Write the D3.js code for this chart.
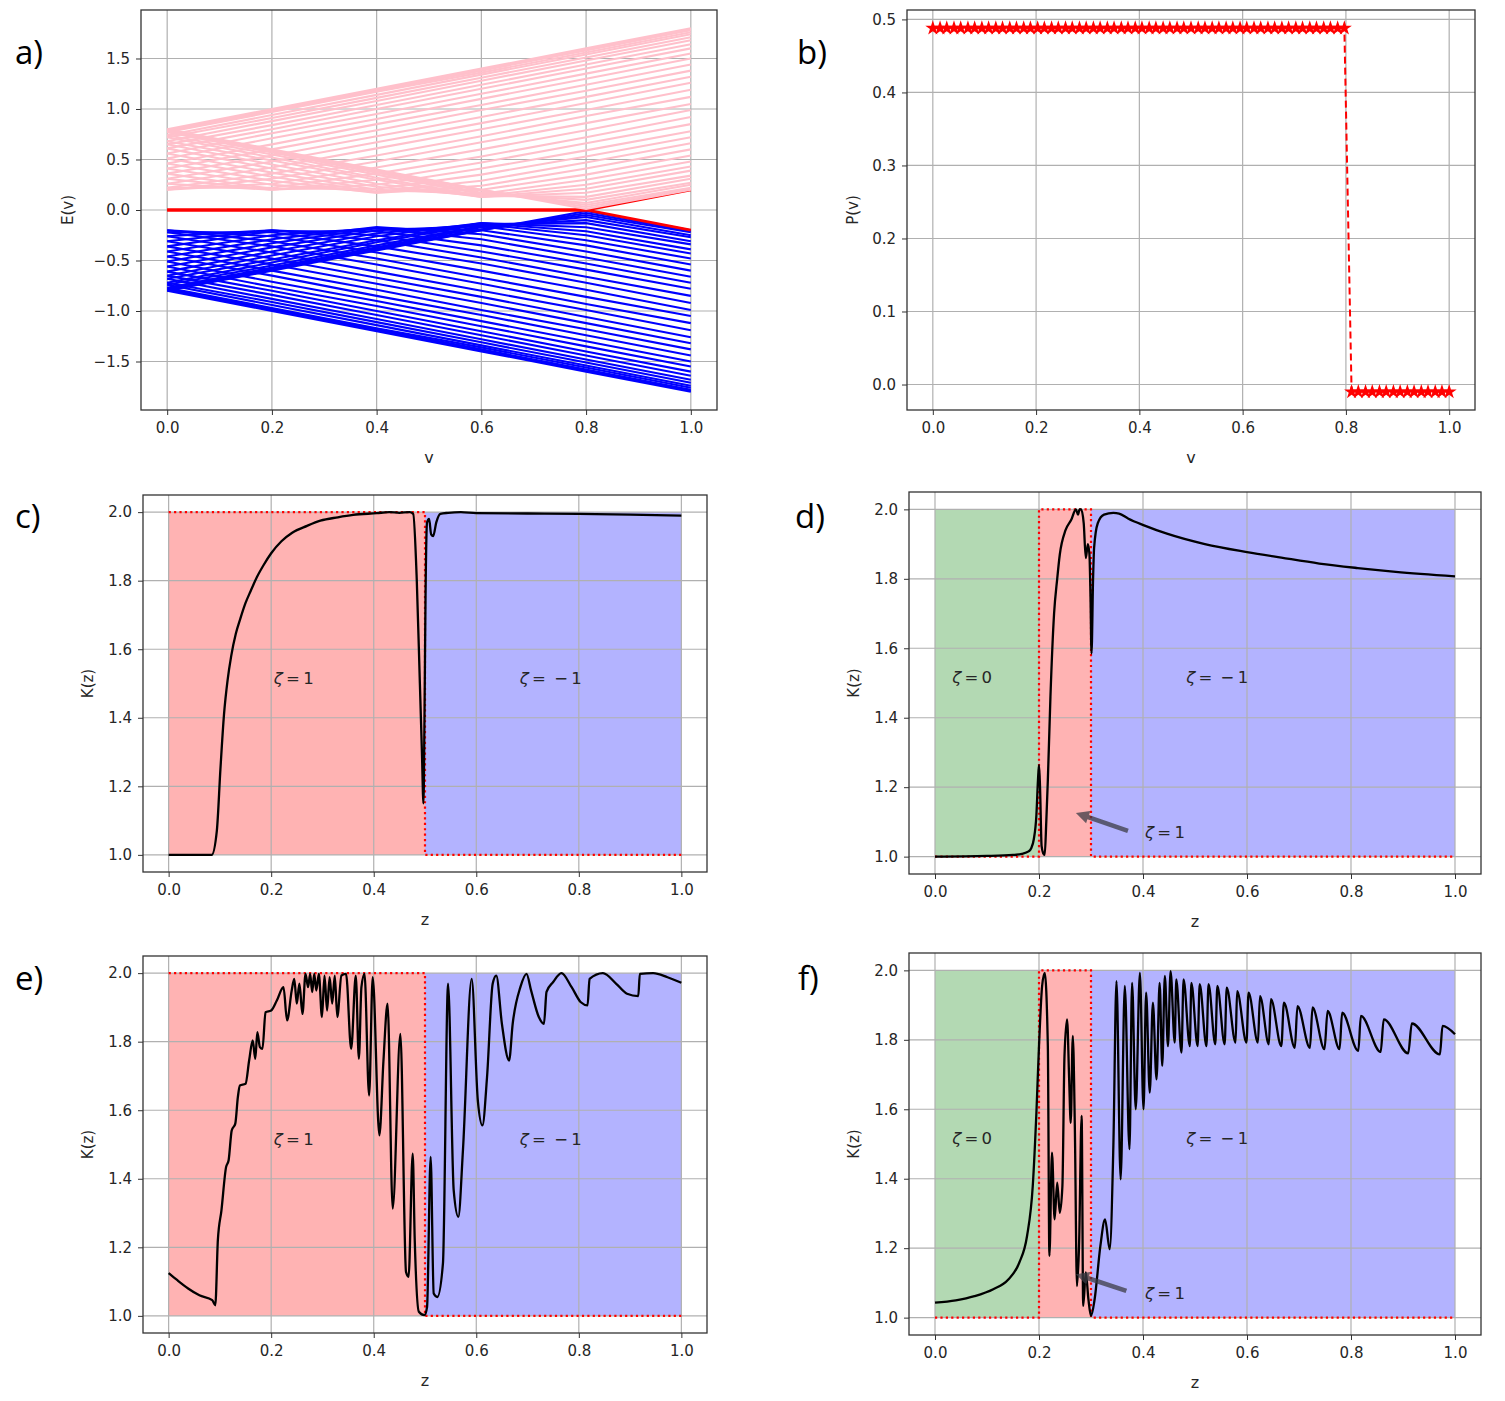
<!DOCTYPE html>
<html>
<head>
<meta charset="utf-8">
<script src="https://cdn.jsdelivr.net/npm/d3@7"></script>
<style>
	body { margin: 0; background: #fff; }
	svg text { font-family: "DejaVu Sans", sans-serif; }
</style>
</head>
<body>
<svg id="fig" width="1505" height="1401"></svg>
<script>
/* ===== DATA ===== */

/* a) spectrum: each band read at these v values */
var vGrid = [0, 0.2, 0.4, 0.6, 0.8, 1.0];
var upperBands = [
	[0.80,0.60,0.40,0.20,0.01,0.20],[0.79,0.59,0.39,0.20,0.03,0.21],[0.78,0.58,0.38,0.19,0.05,0.22],
	[0.77,0.57,0.37,0.17,0.07,0.25],[0.74,0.55,0.35,0.16,0.10,0.27],[0.72,0.52,0.32,0.14,0.13,0.31],
	[0.68,0.49,0.30,0.13,0.17,0.34],[0.65,0.45,0.26,0.13,0.21,0.39],[0.61,0.41,0.23,0.14,0.25,0.43],
	[0.56,0.37,0.20,0.16,0.30,0.48],[0.51,0.33,0.18,0.20,0.35,0.54],[0.46,0.29,0.17,0.24,0.41,0.60],
	[0.41,0.25,0.18,0.29,0.47,0.66],[0.36,0.21,0.21,0.35,0.53,0.72],[0.31,0.20,0.25,0.41,0.59,0.78],
	[0.26,0.20,0.30,0.47,0.66,0.85],[0.22,0.22,0.36,0.53,0.72,0.92],[0.20,0.26,0.42,0.60,0.79,0.99],
	[0.20,0.31,0.48,0.67,0.86,1.05],[0.22,0.36,0.54,0.73,0.93,1.12],[0.26,0.42,0.61,0.80,0.99,1.19],
	[0.31,0.48,0.67,0.86,1.06,1.26],[0.36,0.54,0.73,0.92,1.12,1.32],[0.41,0.60,0.79,0.99,1.18,1.38],
	[0.46,0.65,0.85,1.04,1.24,1.44],[0.51,0.71,0.90,1.10,1.30,1.50],[0.56,0.76,0.95,1.15,1.35,1.55],
	[0.61,0.80,1.00,1.20,1.40,1.60],[0.65,0.84,1.04,1.24,1.44,1.64],[0.68,0.88,1.08,1.28,1.48,1.68],
	[0.72,0.91,1.11,1.31,1.51,1.71],[0.74,0.94,1.14,1.34,1.54,1.74],[0.77,0.97,1.17,1.36,1.56,1.76],
	[0.78,0.98,1.18,1.38,1.58,1.78],[0.79,0.99,1.19,1.39,1.59,1.79],[0.80,1.00,1.20,1.40,1.60,1.80]
];
var lowerBands = [
	[-0.80,-0.60,-0.40,-0.20,-0.01,-0.20],[-0.79,-0.59,-0.39,-0.20,-0.03,-0.21],[-0.78,-0.58,-0.38,-0.19,-0.05,-0.22],
	[-0.77,-0.57,-0.37,-0.17,-0.07,-0.25],[-0.74,-0.55,-0.35,-0.16,-0.10,-0.27],[-0.72,-0.52,-0.32,-0.14,-0.13,-0.31],
	[-0.68,-0.49,-0.30,-0.13,-0.17,-0.34],[-0.65,-0.45,-0.26,-0.13,-0.21,-0.39],[-0.61,-0.41,-0.23,-0.14,-0.25,-0.43],
	[-0.56,-0.37,-0.20,-0.16,-0.30,-0.48],[-0.51,-0.33,-0.18,-0.20,-0.35,-0.54],[-0.46,-0.29,-0.17,-0.24,-0.41,-0.60],
	[-0.41,-0.25,-0.18,-0.29,-0.47,-0.66],[-0.36,-0.21,-0.21,-0.35,-0.53,-0.72],[-0.31,-0.20,-0.25,-0.41,-0.59,-0.78],
	[-0.26,-0.20,-0.30,-0.47,-0.66,-0.85],[-0.22,-0.22,-0.36,-0.53,-0.72,-0.92],[-0.20,-0.26,-0.42,-0.60,-0.79,-0.99],
	[-0.20,-0.31,-0.48,-0.67,-0.86,-1.05],[-0.22,-0.36,-0.54,-0.73,-0.93,-1.12],[-0.26,-0.42,-0.61,-0.80,-0.99,-1.19],
	[-0.31,-0.48,-0.67,-0.86,-1.06,-1.26],[-0.36,-0.54,-0.73,-0.92,-1.12,-1.32],[-0.41,-0.60,-0.79,-0.99,-1.18,-1.38],
	[-0.46,-0.65,-0.85,-1.04,-1.24,-1.44],[-0.51,-0.71,-0.90,-1.10,-1.30,-1.50],[-0.56,-0.76,-0.95,-1.15,-1.35,-1.55],
	[-0.61,-0.80,-1.00,-1.20,-1.40,-1.60],[-0.65,-0.84,-1.04,-1.24,-1.44,-1.64],[-0.68,-0.88,-1.08,-1.28,-1.48,-1.68],
	[-0.72,-0.91,-1.11,-1.31,-1.51,-1.71],[-0.74,-0.94,-1.14,-1.34,-1.54,-1.74],[-0.77,-0.97,-1.17,-1.36,-1.56,-1.76],
	[-0.78,-0.98,-1.18,-1.38,-1.58,-1.78],[-0.79,-0.99,-1.19,-1.39,-1.59,-1.79],[-0.80,-1.00,-1.20,-1.40,-1.60,-1.80]
];
var edgeUpper = [0, 0, 0, 0, 0, 0.2];
var edgeLower = [0, 0, 0, 0, 0, -0.2];

/* b) polarization */
var pV = [0,.014,.027,.041,.054,.068,.081,.095,.108,.122,.135,.149,.162,.176,.189,.203,.216,.230,.243,.257,
	.270,.284,.297,.311,.324,.338,.351,.365,.378,.392,.405,.419,.432,.446,.459,.473,.486,.500,.514,.527,
	.541,.554,.568,.581,.595,.608,.622,.635,.649,.662,.676,.689,.703,.716,.730,.743,.757,.770,.784,.797,
	.811,.824,.838,.851,.865,.878,.892,.905,.919,.932,.946,.959,.973,.986,1.0];
var pP = [.488,.488,.488,.488,.488,.488,.488,.488,.488,.488,.488,.488,.488,.488,.488,.488,.488,.488,.488,.488,
	.488,.488,.488,.488,.488,.488,.488,.488,.488,.488,.488,.488,.488,.488,.488,.488,.488,.488,.488,.488,
	.488,.488,.488,.488,.488,.488,.488,.488,.488,.488,.488,.488,.488,.488,.488,.488,.488,.488,.488,.488,
	-.010,-.010,-.010,-.010,-.010,-.010,-.010,-.010,-.010,-.010,-.010,-.010,-.010,-.010,-.010];

/* c) */
var cZ = [0,0.04,0.084,0.094,0.101,0.108,0.115,0.122,0.131,0.14,0.15,0.16,0.172,0.185,0.2,0.22,0.241,0.27,0.296,0.33,
	0.36,0.406,0.43,0.45,0.47,0.477,0.484,0.49,0.494,0.497,0.499,0.501,0.504,0.508,0.512,0.516,0.522,0.53,0.545,0.57,
	0.6,0.7,0.8,0.9,1.0];
var cK = [1.0,1.0,1.0,1.07,1.25,1.41,1.51,1.58,1.645,1.69,1.735,1.77,1.81,1.845,1.88,1.915,1.94,1.96,1.975,1.985,
	1.992,1.997,2.0,1.998,2.0,1.995,1.80,1.50,1.30,1.15,1.40,1.75,1.97,1.98,1.935,1.93,1.97,1.995,1.998,2.0,
	1.997,1.996,1.995,1.993,1.99];
var cBounds = [0, 0.5, 1.0], cZeta = [1, -1], cStep = [2, 1];

/* d) */
var dZ = [0,0.1,0.15,0.167,0.18,0.185,0.19,0.195,0.198,0.2,0.202,0.205,0.208,0.211,0.214,0.217,0.222,0.229,0.235,0.24,
	0.251,0.262,0.271,0.275,0.278,0.281,0.286,0.29,0.294,0.297,0.299,0.301,0.304,0.306,0.313,0.325,0.343,0.354,0.372,0.402,
	0.446,0.519,0.6,0.666,0.739,0.813,0.886,1.0];
var dK = [1.0,1.002,1.005,1.008,1.015,1.024,1.05,1.12,1.22,1.264,1.20,1.03,1.01,1.005,1.10,1.22,1.46,1.70,1.80,1.87,
	1.94,1.97,2.0,1.985,2.0,2.0,1.96,1.86,1.90,1.87,1.75,1.585,1.80,1.89,1.96,1.985,1.99,1.988,1.973,1.954,
	1.93,1.90,1.877,1.861,1.844,1.831,1.82,1.807];
var dBounds = [0, 0.2, 0.3, 1.0], dZeta = [0, 1, -1], dStep = [1, 2, 1];

/* e) */
var eZ = [0,0.017,0.038,0.06,0.085,0.091,0.096,0.103,0.112,0.117,0.123,0.13,0.135,0.139,0.15,0.157,0.164,0.169,0.173,0.178,
	0.183,0.189,0.2,0.211,0.224,0.231,0.24,0.245,0.25,0.255,0.261,0.267,0.272,0.276,0.28,0.284,0.288,0.293,0.299,0.304,
	0.309,0.314,0.319,0.324,0.329,0.337,0.346,0.356,0.365,0.371,0.376,0.382,0.391,0.398,0.411,0.419,0.427,0.437,0.452,0.463,
	0.468,0.476,0.48,0.488,0.499,0.504,0.511,0.517,0.524,0.535,0.545,0.556,0.565,0.574,0.591,0.603,0.612,0.621,0.632,0.639,
	0.65,0.664,0.671,0.686,0.698,0.707,0.722,0.732,0.737,0.75,0.766,0.786,0.804,0.817,0.821,0.847,0.873,0.894,0.916,0.919,
	0.945,0.973,1.0];
var eK = [1.125,1.104,1.080,1.060,1.046,1.031,1.221,1.308,1.434,1.454,1.541,1.561,1.638,1.672,1.677,1.745,1.804,1.750,1.828,1.784,
	1.779,1.886,1.891,1.920,1.959,1.862,1.949,1.983,1.911,1.969,1.881,1.998,1.959,1.998,1.945,1.998,1.949,1.998,1.872,1.993,
	1.891,1.988,1.911,1.993,1.872,1.993,1.998,1.779,1.993,1.750,1.959,1.998,1.643,1.988,1.527,1.745,1.911,1.313,1.823,1.128,
	1.114,1.473,1.221,1.012,1.002,1.026,1.464,1.065,1.055,1.153,1.969,1.366,1.289,1.483,1.983,1.629,1.556,1.697,1.969,1.993,
	1.852,1.745,1.852,1.959,1.998,1.949,1.872,1.852,1.945,1.974,2.0,1.959,1.915,1.906,1.983,2.0,1.969,1.940,1.933,1.998,
	2.0,1.988,1.972];
var eBounds = [0, 0.5, 1.0], eZeta = [1, -1], eStep = [2, 1];

/* f) */
var fZ = [0,0.04,0.076,0.112,0.141,0.162,0.177,0.188,0.195,0.2,0.206,0.211,0.217,0.22,0.225,0.23,0.235,0.24,0.245,0.249,
	0.254,0.258,0.261,0.265,0.269,0.273,0.277,0.282,0.285,0.29,0.295,0.3,0.307,0.318,0.327,0.336,0.343,0.349,0.357,0.365,
	0.374,0.379,0.386,0.394,0.401,0.406,0.413,0.419,0.426,0.432,0.437,0.442,0.448,0.453,0.461,0.464,0.474,0.478,0.490,0.493,
	0.505,0.509,0.522,0.526,0.539,0.543,0.557,0.561,0.578,0.581,0.599,0.603,0.621,0.625,0.642,0.646,0.666,0.671,0.692,0.697,
	0.721,0.726,0.749,0.755,0.778,0.783,0.814,0.819,0.857,0.863,0.910,0.917,0.971,0.976,1.0];
var fK = [1.043,1.050,1.062,1.082,1.110,1.158,1.235,1.379,1.590,1.782,1.955,1.993,1.782,1.178,1.475,1.283,1.389,1.302,1.379,1.753,
	1.859,1.686,1.561,1.811,1.542,1.091,1.206,1.581,1.034,1.130,1.053,1.005,1.053,1.206,1.283,1.197,1.494,1.969,1.398,1.955,
	1.485,1.964,1.600,1.993,1.600,1.936,1.648,1.907,1.686,1.964,1.725,1.984,1.782,1.998,1.792,1.974,1.763,1.974,1.782,1.964,
	1.782,1.960,1.782,1.960,1.787,1.955,1.787,1.950,1.792,1.940,1.792,1.936,1.792,1.926,1.787,1.917,1.782,1.907,1.777,1.897,
	1.777,1.893,1.773,1.883,1.773,1.878,1.768,1.869,1.765,1.859,1.761,1.847,1.758,1.840,1.816];
var fBounds = [0, 0.2, 0.3, 1.0], fZeta = [0, 1, -1], fStep = [1, 2, 1];

/* ticks */
var unitTicks = [0, 0.2, 0.4, 0.6, 0.8, 1.0];
var eTicks = [-1.5, -1.0, -0.5, 0.0, 0.5, 1.0, 1.5];
var pTicks = [0.0, 0.1, 0.2, 0.3, 0.4, 0.5];
var kTicks = [1.0, 1.2, 1.4, 1.6, 1.8, 2.0];

/* ===== SETTINGS ===== */
var fig = d3.select("#fig");
var fmt = d3.format(".1f");
var zetaFill = {"1": "#ffb3b3", "-1": "#b3b3ff", "0": "#b3d9b3"};

function makePanel(box, xDom, yDom){
	var p = {box: box};
	p.x = d3.scaleLinear().domain(xDom).range([box.left, box.right]);
	p.y = d3.scaleLinear().domain(yDom).range([box.bottom, box.top]);
	p.g = fig.append("g");
	return p;
}

function addGrid(p, xt, yt){
	var g = p.g.append("g")
		.attr("stroke", "#b0b0b0")
		.attr("stroke-width", 1.2);
	g.selectAll(".gx").data(xt).enter().append("line")
		.attr("x1", function(d){ return p.x(d); }).attr("x2", function(d){ return p.x(d); })
		.attr("y1", p.box.top).attr("y2", p.box.bottom);
	g.selectAll(".gy").data(yt).enter().append("line")
		.attr("y1", function(d){ return p.y(d); }).attr("y2", function(d){ return p.y(d); })
		.attr("x1", p.box.left).attr("x2", p.box.right);
}

function addAxes(p, xt, yt, xLabel, yLabel, yLabelGap){
	var gx = p.g.append("g")
		.attr("transform", "translate(0," + p.box.bottom + ")")
		.call(d3.axisBottom(p.x).tickValues(xt).tickFormat(fmt).tickSize(5).tickPadding(7));
	var gy = p.g.append("g")
		.attr("transform", "translate(" + p.box.left + ",0)")
		.call(d3.axisLeft(p.y).tickValues(yt).tickFormat(fmt).tickSize(5).tickPadding(6));
	[gx, gy].forEach(function(a){
		a.select(".domain").remove();
		a.attr("font-size", 15).attr("font-family", "DejaVu Sans").style("color", "#333");
		a.selectAll("text").attr("fill", "#262626");
	});
	p.g.append("rect")	//spines
		.attr("x", p.box.left).attr("y", p.box.top)
		.attr("width", p.box.right - p.box.left).attr("height", p.box.bottom - p.box.top)
		.attr("fill", "none").attr("stroke", "#333").attr("stroke-width", 1.3);
	p.g.append("text")
		.attr("x", (p.box.left + p.box.right) / 2).attr("y", p.box.bottom + 47)
		.attr("text-anchor", "middle").attr("dominant-baseline", "central")
		.attr("font-size", 16).attr("fill", "#262626")
		.text(xLabel);
	p.g.append("text")
		.attr("transform", "translate(" + (p.box.left - yLabelGap) + "," + ((p.box.top + p.box.bottom) / 2) + ") rotate(-90)")
		.attr("text-anchor", "middle").attr("dominant-baseline", "central")
		.attr("font-size", 15).attr("fill", "#262626")
		.text(yLabel);
}

function panelLetter(txt, x, y){
	fig.append("text")
		.attr("x", x).attr("y", y)
		.style("font-family", "'Open Sans', 'Noto Sans', sans-serif")
		.attr("font-size", 33).attr("fill", "#000")
		.text(txt);
}

function zetaText(p, z, k, rest){
	var t = p.g.append("text")
		.attr("x", p.x(z)).attr("y", p.y(k))
		.attr("dominant-baseline", "central")
		.attr("font-size", 16.5).attr("fill", "#262626")
		.attr("xml:space", "preserve");
	t.append("tspan").attr("font-style", "italic").text("\u03b6");
	t.append("tspan").text(rest);
	return t;
}

function arrow(p, z0, k0, z1, k1){
	/* shaft from (z0,k0) to head at (z1,k1) */
	var x0 = p.x(z0), y0 = p.y(k0), x1 = p.x(z1), y1 = p.y(k1);
	var L = Math.hypot(x1 - x0, y1 - y0), ux = (x1 - x0) / L, uy = (y1 - y0) / L, nx = -uy, ny = ux;
	var w = 2.3, hw = 6.5, hl = 13;
	var bx = x1 - ux * hl, by = y1 - uy * hl;
	var pts = [[x0 + nx * w, y0 + ny * w], [bx + nx * w, by + ny * w], [bx + nx * hw, by + ny * hw], [x1, y1],
		[bx - nx * hw, by - ny * hw], [bx - nx * w, by - ny * w], [x0 - nx * w, y0 - ny * w]];
	p.g.append("path")
		.attr("d", "M" + pts.map(function(q){ return q[0].toFixed(1) + "," + q[1].toFixed(1); }).join("L") + "Z")
		.attr("fill", "#3c3c46").attr("fill-opacity", 0.75);
}

/* ===== a) ===== */
var pa = makePanel({left: 141, right: 717, top: 10, bottom: 410}, [-0.05, 1.05], [-1.98, 1.98]);
addGrid(pa, unitTicks, eTicks);
var bandLine = d3.line()
	.x(function(d, i){ return pa.x(vGrid[i]); })
	.y(function(d){ return pa.y(d); });
pa.g.append("g").selectAll("path").data(lowerBands).enter().append("path")
	.attr("d", bandLine).attr("fill", "none").attr("stroke", "blue").attr("stroke-width", 2.1);
pa.g.append("g").selectAll("path").data([edgeUpper, edgeLower]).enter().append("path")
	.attr("d", bandLine).attr("fill", "none").attr("stroke", "red").attr("stroke-width", 2.8);
pa.g.append("g").selectAll("path").data(upperBands).enter().append("path")
	.attr("d", bandLine).attr("fill", "none").attr("stroke", "pink").attr("stroke-width", 2.1);
addAxes(pa, unitTicks, eTicks, "v", "E(v)", 73);

/* ===== b) ===== */
var pb = makePanel({left: 907, right: 1475, top: 10, bottom: 410}, [-0.05, 1.05], [-0.0349, 0.5129]);
addGrid(pb, unitTicks, pTicks);
pb.g.append("path")
	.attr("d", d3.line().x(function(d, i){ return pb.x(pV[i]); }).y(function(d){ return pb.y(d); })(pP))
	.attr("fill", "none").attr("stroke", "red").attr("stroke-width", 2).attr("stroke-dasharray", "7,4");
pb.g.append("g").selectAll("path").data(pP).enter().append("path")
	.attr("transform", function(d, i){ return "translate(" + pb.x(pV[i]) + "," + pb.y(d) + ")"; })
	.attr("d", d3.symbol(d3.symbolStar, 70))
	.attr("fill", "red");
addAxes(pb, unitTicks, pTicks, "v", "P(v)", 54);

/* ===== c) - f) ===== */
function kPanel(box, zs, ks, bounds, zetas, steps){
	var p = makePanel(box, [-0.05, 1.05], [0.95, 2.05]);
	/* phase regions */
	p.g.append("g").selectAll("rect").data(zetas).enter().append("rect")
		.attr("x", function(d, i){ return p.x(bounds[i]); })
		.attr("width", function(d, i){ return p.x(bounds[i + 1]) - p.x(bounds[i]); })
		.attr("y", p.y(2)).attr("height", p.y(1) - p.y(2))
		.attr("fill", function(d){ return zetaFill[d]; });
	addGrid(p, unitTicks, kTicks);
	/* expected step */
	var stepPts = [];
	steps.forEach(function(s, i){ stepPts.push([bounds[i], s], [bounds[i + 1], s]); });
	p.g.append("path")
		.attr("d", d3.line().x(function(d){ return p.x(d[0]); }).y(function(d){ return p.y(d[1]); })(stepPts))
		.attr("fill", "none").attr("stroke", "red").attr("stroke-width", 2.2).attr("stroke-dasharray", "2.2,3.2");
	/* K(z) */
	p.g.append("path")
		.attr("d", d3.line().curve(d3.curveMonotoneX)
			.x(function(d, i){ return p.x(zs[i]); }).y(function(d){ return p.y(d); })(ks))
		.attr("fill", "none").attr("stroke", "#000").attr("stroke-width", 2.3).attr("stroke-linejoin", "round");
	addAxes(p, unitTicks, kTicks, "z", "K(z)", 55);
	return p;
}

var pc = kPanel({left: 143, right: 707, top: 495, bottom: 872}, cZ, cK, cBounds, cZeta, cStep);
zetaText(pc, 0.205, 1.516, "\u2009=\u20091");
zetaText(pc, 0.685, 1.516, "\u2009=\u2002\u2212\u20091");

var pd = kPanel({left: 909, right: 1481, top: 492, bottom: 874}, dZ, dK, dBounds, dZeta, dStep);
zetaText(pd, 0.033, 1.516, "\u2009=\u20090");
zetaText(pd, 0.483, 1.516, "\u2009=\u2002\u2212\u20091");
arrow(pd, 0.371, 1.074, 0.271, 1.126);
zetaText(pd, 0.404, 1.071, "\u2009=\u20091");

var pe = kPanel({left: 143, right: 707, top: 956, bottom: 1333}, eZ, eK, eBounds, eZeta, eStep);
zetaText(pe, 0.205, 1.516, "\u2009=\u20091");
zetaText(pe, 0.685, 1.516, "\u2009=\u2002\u2212\u20091");

var pf = kPanel({left: 909, right: 1481, top: 953, bottom: 1335}, fZ, fK, fBounds, fZeta, fStep);
zetaText(pf, 0.033, 1.516, "\u2009=\u20090");
zetaText(pf, 0.483, 1.516, "\u2009=\u2002\u2212\u20091");
arrow(pf, 0.368, 1.077, 0.271, 1.125);
zetaText(pf, 0.404, 1.072, "\u2009=\u20091");

/* panel letters */
panelLetter("a)", 15, 64);
panelLetter("b)", 797, 64);
panelLetter("c)", 15, 528);
panelLetter("d)", 795, 528);
panelLetter("e)", 15, 990);
panelLetter("f)", 798, 990);
</script>
</body>
</html>
